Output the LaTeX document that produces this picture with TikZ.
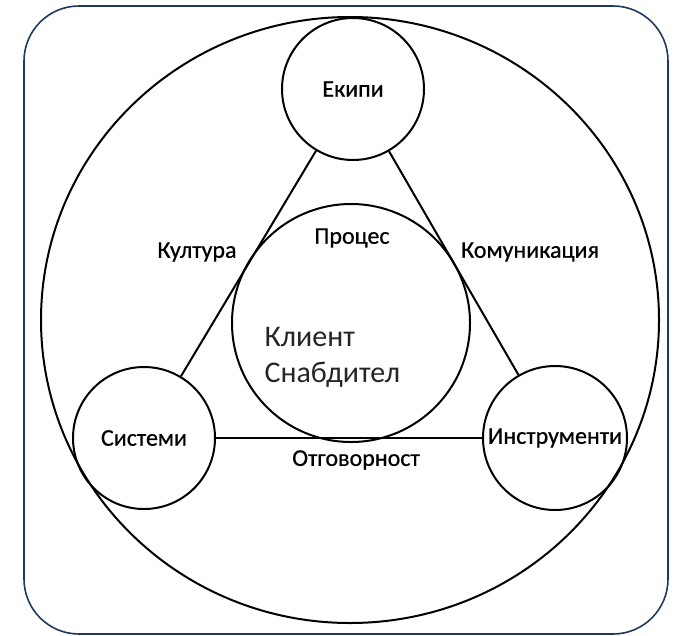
\documentclass[tikz,border=0pt]{standalone}
\usepackage{fontspec}
\setmainfont{Carlito}
\usepackage{tikz}
\definecolor{ramka}{HTML}{1F3A5F}

\begin{document}
\begin{tikzpicture}[x=1pt, y=-1pt, every node/.style={font=\fontsize{24}{28}\selectfont\addfontfeature{FakeBold=0.6}},
    krug/.style={circle, draw, line width=2pt, inner sep=0pt},
    vrska/.style={line width=2pt}]
    \useasboundingbox (0,0) rectangle (677,635);
    % ramka
    \draw[ramka, line width=1.6pt, rounded corners=55pt] (24,6) rectangle (668,634);
    % golem krug
    \draw[vrska] (350,320) circle [x radius=309, y radius=303];

    % krugovi
    \node[krug, minimum size=142pt] (ekipi) at (353,89) {};
    \node[krug, minimum size=142pt] (sistemi) at (144,438) {};
    \node[krug, minimum size=144pt] (instr) at (555,438) {};
    \node[krug, minimum size=238pt] (klient) at (351,323) {};

    % tekst vo krugovite
    \node (ekipit) at (ekipi) {Екипи};
    \node (sistemit) at (sistemi) {Системи};
    \node (instrt) at (instr) {Инструменти};
    \node[anchor=west, font=\fontsize{30}{36}\selectfont, text=black!85, align=left] (klientt) at (261,357) {Клиент\\Снабдител};

    % vrski
    \draw[vrska] (ekipi) -- (sistemi);
    \draw[vrska] (ekipi) -- (instr);
    \draw[vrska] (sistemi) -- (instr);

    % oznaki
    \node (kultura) at (197,252) {Култура};
    \node (komunik) at (530,252) {Комуникация};
    \node (proces) at (352,238) {Процес};
    \node (otgov) at (356,460) {Отговорност};
\end{tikzpicture}
\end{document}
